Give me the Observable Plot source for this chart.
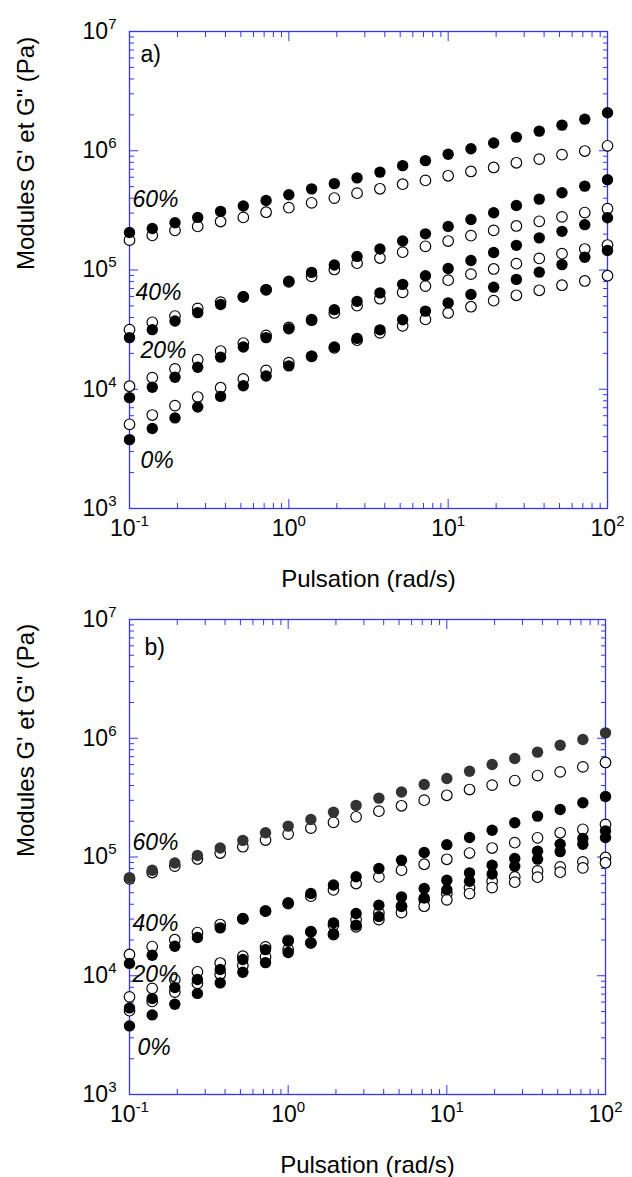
<!DOCTYPE html>
<html>
<head>
<meta charset="utf-8">
<script src="https://cdn.jsdelivr.net/npm/d3@7"></script>
<script src="https://cdn.jsdelivr.net/npm/@observablehq/plot@0.6"></script>
<style>
  html, body { margin: 0; padding: 0; background: #fff; }
  #chart { width: 632px; }
  #chart svg { display: block; overflow: visible; }
</style>
</head>
<body>
<div id="chart"></div>
<script>
// Angular frequency (rad/s), 7 points per decade
const omega = [0.1, 0.139, 0.193, 0.268, 0.373, 0.518, 0.72, 1, 1.39, 1.93, 2.68, 3.73, 5.18, 7.2, 10, 13.9, 19.3, 26.8, 37.3, 51.8, 72, 100];

// Panel a) — G' (filled) and G" (open), Pa
const a60_Gp  = [2.06e5, 2.23e5, 2.49e5, 2.76e5, 3.10e5, 3.44e5, 3.83e5, 4.28e5, 4.79e5, 5.30e5, 5.92e5, 6.62e5, 7.50e5, 8.26e5, 9.36e5, 1.04e6, 1.16e6, 1.30e6, 1.46e6, 1.64e6, 1.84e6, 2.08e6];
const a60_Gpp = [1.78e5, 1.95e5, 2.15e5, 2.32e5, 2.55e5, 2.76e5, 3.05e5, 3.33e5, 3.66e5, 4.01e5, 4.41e5, 4.80e5, 5.24e5, 5.64e5, 6.17e5, 6.70e5, 7.24e5, 7.93e5, 8.51e5, 9.27e5, 9.95e5, 1.10e6];
const a40_Gp  = [2.71e4, 3.16e4, 3.73e4, 4.39e4, 5.13e4, 5.97e4, 6.85e4, 8.05e4, 9.55e4, 1.10e5, 1.30e5, 1.50e5, 1.75e5, 2.01e5, 2.32e5, 2.65e5, 3.02e5, 3.47e5, 3.93e5, 4.45e5, 5.05e5, 5.71e5];
const a40_Gpp = [3.16e4, 3.64e4, 4.11e4, 4.76e4, 5.38e4, 5.96e4, 6.81e4, 7.94e4, 8.84e4, 1.01e5, 1.14e5, 1.26e5, 1.41e5, 1.58e5, 1.75e5, 1.94e5, 2.15e5, 2.34e5, 2.56e5, 2.79e5, 3.03e5, 3.27e5];
const a20_Gp  = [8.51e3, 1.04e4, 1.26e4, 1.53e4, 1.86e4, 2.26e4, 2.71e4, 3.22e4, 3.85e4, 4.65e4, 5.46e4, 6.43e4, 7.58e4, 8.96e4, 1.03e5, 1.20e5, 1.40e5, 1.61e5, 1.86e5, 2.11e5, 2.40e5, 2.74e5];
const a20_Gpp = [1.06e4, 1.25e4, 1.48e4, 1.77e4, 2.09e4, 2.44e4, 2.83e4, 3.30e4, 3.79e4, 4.36e4, 5.02e4, 5.74e4, 6.49e4, 7.33e4, 8.22e4, 9.23e4, 1.02e5, 1.13e5, 1.25e5, 1.37e5, 1.50e5, 1.62e5];
const a0_Gp   = [3.78e3, 4.68e3, 5.75e3, 7.10e3, 8.71e3, 1.07e4, 1.29e4, 1.57e4, 1.89e4, 2.26e4, 2.67e4, 3.15e4, 3.83e4, 4.52e4, 5.30e4, 6.24e4, 7.18e4, 8.34e4, 9.59e4, 1.11e5, 1.28e5, 1.46e5];
const a0_Gpp  = [5.08e3, 6.08e3, 7.29e3, 8.61e3, 1.03e4, 1.22e4, 1.44e4, 1.67e4, 1.89e4, 2.22e4, 2.58e4, 2.97e4, 3.40e4, 3.85e4, 4.36e4, 4.92e4, 5.53e4, 6.14e4, 6.76e4, 7.45e4, 8.09e4, 8.95e4];

// Panel b)
const b60_Gp  = [6.71e4, 7.74e4, 8.91e4, 1.03e5, 1.19e5, 1.38e5, 1.60e5, 1.82e5, 2.07e5, 2.38e5, 2.72e5, 3.13e5, 3.53e5, 4.08e5, 4.58e5, 5.28e5, 6.01e5, 6.75e5, 7.64e5, 8.73e5, 9.75e5, 1.11e6];
const b60_Gpp = [6.55e4, 7.40e4, 8.38e4, 9.62e4, 1.08e5, 1.22e5, 1.39e5, 1.56e5, 1.75e5, 1.96e5, 2.18e5, 2.43e5, 2.70e5, 3.01e5, 3.31e5, 3.70e5, 4.03e5, 4.40e5, 4.85e5, 5.21e5, 5.74e5, 6.25e5];
const b40_Gp  = [1.27e4, 1.49e4, 1.77e4, 2.10e4, 2.53e4, 3.02e4, 3.52e4, 4.12e4, 4.93e4, 5.81e4, 6.82e4, 8.00e4, 9.40e4, 1.09e5, 1.27e5, 1.46e5, 1.68e5, 1.94e5, 2.21e5, 2.51e5, 2.86e5, 3.23e5];
const b40_Gpp = [1.51e4, 1.76e4, 2.01e4, 2.31e4, 2.70e4, 3.02e4, 3.50e4, 4.05e4, 4.68e4, 5.28e4, 5.98e4, 6.79e4, 7.74e4, 8.69e4, 9.57e4, 1.08e5, 1.19e5, 1.32e5, 1.45e5, 1.60e5, 1.71e5, 1.88e5];
const b20_Gp  = [5.36e3, 6.43e3, 7.96e3, 9.29e3, 1.13e4, 1.37e4, 1.66e4, 1.95e4, 2.34e4, 2.79e4, 3.34e4, 3.93e4, 4.61e4, 5.43e4, 6.38e4, 7.35e4, 8.53e4, 9.71e4, 1.12e5, 1.28e5, 1.43e5, 1.66e5];
const b20_Gpp = [6.64e3, 7.82e3, 9.29e3, 1.08e4, 1.28e4, 1.46e4, 1.75e4, 1.99e4, 2.35e4, 2.67e4, 2.98e4, 3.40e4, 3.85e4, 4.37e4, 4.93e4, 5.53e4, 6.25e4, 6.79e4, 7.64e4, 8.26e4, 9.10e4, 9.91e4];
const b0_Gp   = [3.78e3, 4.68e3, 5.75e3, 7.10e3, 8.71e3, 1.07e4, 1.29e4, 1.57e4, 1.89e4, 2.26e4, 2.67e4, 3.15e4, 3.83e4, 4.52e4, 5.30e4, 6.24e4, 7.18e4, 8.34e4, 9.59e4, 1.11e5, 1.28e5, 1.46e5];
const b0_Gpp  = [5.08e3, 6.08e3, 7.29e3, 8.61e3, 1.03e4, 1.22e4, 1.44e4, 1.67e4, 1.89e4, 2.22e4, 2.58e4, 2.97e4, 3.40e4, 3.85e4, 4.36e4, 4.92e4, 5.53e4, 6.14e4, 6.76e4, 7.45e4, 8.09e4, 8.95e4];

// Ticks
const xMajor = [0.1, 1, 10, 100];
const yMajor = [1e3, 1e4, 1e5, 1e6, 1e7];
const minorOf = exps => exps.flatMap(e => [2, 3, 4, 5, 6, 7, 8, 9].map(m => m * Math.pow(10, e)));
const xMinor = minorOf([-1, 0, 1]);
const yMinor = minorOf([3, 4, 5, 6]);

const xTitle = "Pulsation (rad/s)";
const yTitle = "Modules G' et G\" (Pa)";

// Annotation labels
const aLabels = [
  {text: "a)",  x: 0.1, y: 6.4e6, dx: 11, italic: false},
  {text: "60%", x: 0.1, y: 3.9e5, dx: 3,  italic: true},
  {text: "40%", x: 0.1, y: 6.5e4, dx: 6,  italic: true},
  {text: "20%", x: 0.1, y: 2.1e4, dx: 11, italic: true},
  {text: "0%",  x: 0.1, y: 2.5e3, dx: 11, italic: true}
];
const bLabels = [
  {text: "b)",  x: 0.1, y: 5.8e6, dx: 15, italic: false},
  {text: "60%", x: 0.1, y: 1.33e5, dx: 3, italic: true},
  {text: "40%", x: 0.1, y: 2.74e4, dx: 3, italic: true},
  {text: "20%", x: 0.1, y: 1.02e4, dx: 3, italic: true},
  {text: "0%",  x: 0.1, y: 2.5e3, dx: 8,  italic: true}
];

const FONT = "'Liberation Sans', Arimo, Arial, sans-serif";
const BLUE = "#3535f5";

function toPoints(vals) { return vals.map((v, i) => ({x: omega[i], y: v})); }

function supify(svg) {
  svg.querySelectorAll("text").forEach(t => {
    const m = /^10\^(-?\d+)$/.exec(t.textContent);
    if (!m) return;
    t.textContent = "10";
    const sp = document.createElementNS("http://www.w3.org/2000/svg", "tspan");
    sp.setAttribute("dy", "-10");
    sp.setAttribute("font-size", "15");
    sp.textContent = m[1];
    t.appendChild(sp);
  });
}

function panel({series, labels, height, marginTop, marginBottom, marginRight}) {
  const fmt = d => "10^" + Math.round(Math.log10(d));
  const marks = [
    Plot.frame({stroke: BLUE, strokeWidth: 1.3}),
    ...["left", "right"].flatMap(anchor => [
      Plot.axisY(yMajor, {anchor, tickSize: -9, fill: "none", stroke: BLUE, label: null}),
      Plot.axisY(yMinor, {anchor, tickSize: -5, fill: "none", stroke: BLUE, label: null})
    ]),
    ...["top", "bottom"].flatMap(anchor => [
      Plot.axisX(xMajor, {anchor, tickSize: -9, fill: "none", stroke: BLUE, label: null}),
      Plot.axisX(xMinor, {anchor, tickSize: -5, fill: "none", stroke: BLUE, label: null})
    ]),
    Plot.axisY(yMajor, {anchor: "left", tickSize: 0, tickPadding: 13, tickFormat: fmt, fontSize: 23, label: null}),
    Plot.axisX(xMajor, {anchor: "bottom", tickSize: 0, tickPadding: 11, tickFormat: fmt, fontSize: 23, label: null}),
    // open symbols (G") first, filled (G') on top
    ...series.map(s => Plot.dot(toPoints(s.Gpp), {x: "x", y: "y", r: 5.3, fill: "white", stroke: "black", strokeWidth: 1.15})),
    ...series.map(s => Plot.dot(toPoints(s.Gp), {x: "x", y: "y", r: 5.7, fill: s.fill})),
    ...labels.map(l => Plot.text([l], {x: "x", y: "y", text: "text", dx: l.dx, textAnchor: "start", lineAnchor: "middle", fontSize: 23, fontStyle: l.italic ? "italic" : "normal"})),
    Plot.text([xTitle], {frameAnchor: "bottom", text: d => d, dy: 71, lineAnchor: "middle", fontSize: 24}),
    Plot.text([yTitle], {frameAnchor: "left", text: d => d, rotate: -90, dx: -103, lineAnchor: "middle", fontSize: 24})
  ];
  const svg = Plot.plot({
    width: 632,
    height,
    marginTop,
    marginBottom,
    marginLeft: 129,
    marginRight,
    style: {fontFamily: FONT, background: "white", color: "black", overflow: "visible"},
    x: {type: "log", domain: [0.1, 100]},
    y: {type: "log", domain: [1e3, 1e7]},
    marks
  });
  supify(svg);
  return svg;
}

const chart = document.getElementById("chart");
chart.appendChild(panel({
  series: [
    {Gp: a60_Gp, Gpp: a60_Gpp, fill: "black"},
    {Gp: a40_Gp, Gpp: a40_Gpp, fill: "black"},
    {Gp: a20_Gp, Gpp: a20_Gpp, fill: "black"},
    {Gp: a0_Gp,  Gpp: a0_Gpp,  fill: "black"}
  ],
  labels: aLabels, height: 590, marginTop: 31, marginBottom: 82, marginRight: 25
}));
chart.appendChild(panel({
  series: [
    {Gp: b60_Gp, Gpp: b60_Gpp, fill: "#333333"},
    {Gp: b40_Gp, Gpp: b40_Gpp, fill: "black"},
    {Gp: b20_Gp, Gpp: b20_Gpp, fill: "black"},
    {Gp: b0_Gp,  Gpp: b0_Gpp,  fill: "black"}
  ],
  labels: bLabels, height: 587, marginTop: 29, marginBottom: 83, marginRight: 27
}));
</script>
</body>
</html>
